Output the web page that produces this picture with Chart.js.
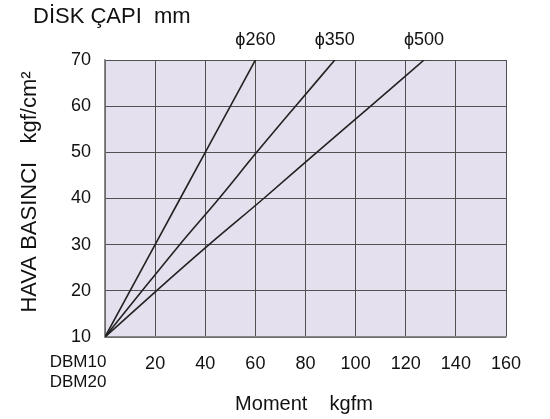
<!DOCTYPE html>
<html>
<head>
<meta charset="utf-8">
<script src="https://cdn.jsdelivr.net/npm/chart.js@4"></script>
<style>
html,body{margin:0;padding:0;background:#fff;}
#wrap{position:relative;width:550px;height:419px;}
</style>
</head>
<body>
<div id="wrap"><canvas id="c" width="550" height="419"></canvas></div>
<script>
// Data (x = Moment kgfm, y = Hava basıncı kgf/cm²)
const d260x = [0, 20, 40, 60];
const d260y = [10, 30, 50, 70];
const d350x = [0, 14.8, 29.8, 45.5, 60.5, 76, 91.7];
const d350y = [10, 20, 30, 40, 50, 60, 70];
const d500x = [0, 20.5, 41.5, 63.3, 84.5, 106, 127.3];
const d500y = [10, 20, 30, 40, 50, 60, 70];
const seriesNames = ['ϕ260', 'ϕ350', 'ϕ500'];
const xTicks = [0, 20, 40, 60, 80, 100, 120, 140, 160];
const yTicks = [10, 20, 30, 40, 50, 60, 70];
const firstXLabel = ['DBM10', 'DBM20'];
const chartTitle = 'DİSK ÇAPI  mm';
const yTitle = 'HAVA BASINCI   kgf/cm²';
const xTitle = 'Moment    kgfm';

const toPts = (xs, ys) => xs.map((x, i) => ({x: x, y: ys[i]}));
const FONT = 'Liberation Sans, Arial, sans-serif';

const mkDs = (label, xs, ys) => ({
  label: label, data: toPts(xs, ys),
  borderColor: '#222', borderWidth: 1.6, pointRadius: 0,
  cubicInterpolationMode: 'monotone', fill: false
});

const textPlugin = {
  id: 'texts',
  beforeDraw(chart) {
    const {ctx, chartArea: a} = chart;
    ctx.save();
    ctx.fillStyle = '#e4e0ee';
    ctx.fillRect(a.left, a.top, a.right - a.left, a.bottom - a.top);
    ctx.restore();
  },
  afterDraw(chart) {
    const {ctx, chartArea: a, scales} = chart;
    ctx.save();
    ctx.fillStyle = '#111';
    // Title
    ctx.font = '22px ' + FONT;
    ctx.textAlign = 'left';
    ctx.textBaseline = 'middle';
    ctx.fillText(chartTitle, 33, 17);
    // Series labels at top of each line
    ctx.font = '18px ' + FONT;
    ctx.textAlign = 'center';
    chart.data.datasets.forEach(ds => {
      const last = ds.data[ds.data.length - 1];
      ctx.fillText(ds.label, scales.x.getPixelForValue(last.x), 40);
    });
    // Y title
    ctx.save();
    ctx.translate(30, 192);
    ctx.rotate(-Math.PI / 2);
    ctx.font = '22px ' + FONT;
    ctx.textAlign = 'center';
    ctx.fillText(yTitle, 0, 0);
    ctx.restore();
    // First x label (two lines)
    ctx.font = '17px ' + FONT;
    ctx.textAlign = 'center';
    ctx.fillText(firstXLabel[0], 78, 362);
    ctx.fillText(firstXLabel[1], 78, 382);
    // X title
    ctx.font = '20px ' + FONT;
    ctx.fillText(xTitle, 304, 404);
    ctx.restore();
  }
};

new Chart(document.getElementById('c'), {
  type: 'line',
  data: {
    datasets: [
      mkDs(seriesNames[0], d260x, d260y),
      mkDs(seriesNames[1], d350x, d350y),
      mkDs(seriesNames[2], d500x, d500y)
    ]
  },
  options: {
    responsive: false,
    animation: false,
    devicePixelRatio: 1,
    layout: {padding: {top: 60, right: 44, left: 0, bottom: 0}},
    plugins: {legend: {display: false}, tooltip: {enabled: false}},
    scales: {
      x: {
        type: 'linear', min: 0, max: 160,
        afterBuildTicks: s => { s.ticks = xTicks.map(v => ({value: v})); },
        afterFit: s => { s.height = 82; },
        grid: {color: '#505050', lineWidth: 1, drawTicks: false},
        border: {color: '#888', width: 1.5},
        ticks: {
          padding: 16, color: '#111', maxRotation: 0, autoSkip: false,
          font: {family: FONT, size: 18},
          callback: v => v === 0 ? '' : String(v)
        }
      },
      y: {
        type: 'linear', min: 10, max: 70,
        afterBuildTicks: s => { s.ticks = yTicks.map(v => ({value: v})); },
        afterFit: s => { s.width = 105; },
        grid: {color: '#505050', lineWidth: 1, drawTicks: false},
        border: {color: '#888', width: 1.5},
        ticks: {
          padding: 14, color: '#111',
          font: {family: FONT, size: 18},
          callback: v => String(v)
        }
      }
    }
  },
  plugins: [textPlugin]
});
</script>
</body>
</html>
